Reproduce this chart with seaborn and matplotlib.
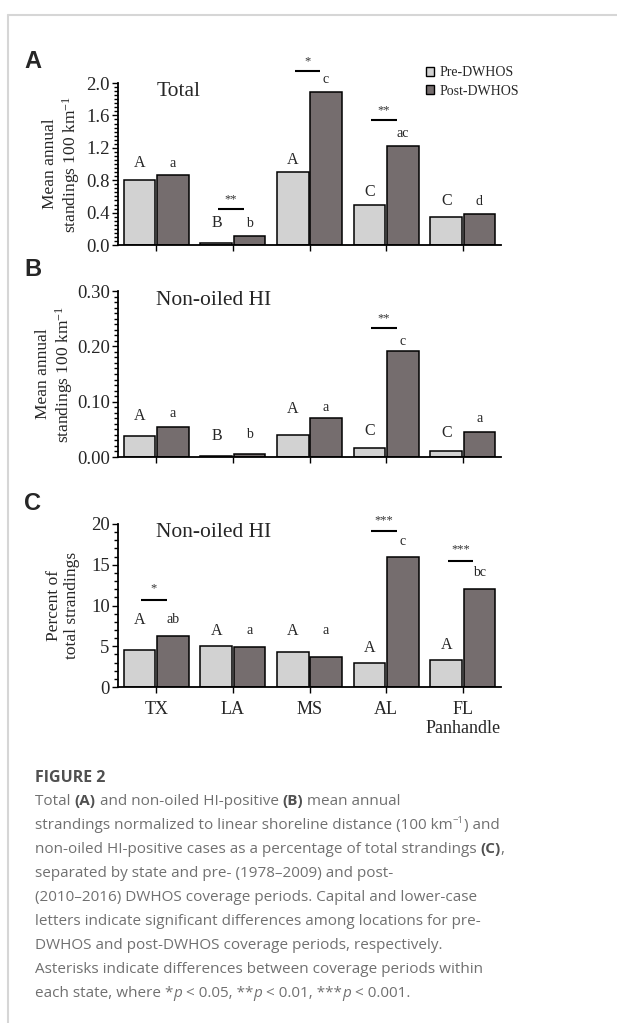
import numpy as np
import pandas as pd
import matplotlib
matplotlib.use("Agg")
import matplotlib.pyplot as plt
from matplotlib.lines import Line2D
from matplotlib.patches import Patch
from matplotlib.ticker import MultipleLocator, FormatStrFormatter
import seaborn as sns

# data
states = ["TX", "LA", "MS", "AL", "FL\nPanhandle"]
periods = ["Pre-DWHOS", "Post-DWHOS"]

total_pre = [0.80, 0.02, 0.90, 0.50, 0.345]
total_post = [0.87, 0.105, 1.89, 1.22, 0.38]
hi_pre = [0.038, 0.002, 0.040, 0.016, 0.011]
hi_post = [0.055, 0.005, 0.071, 0.192, 0.045]
pct_pre = [4.6, 5.05, 4.35, 2.9, 3.3]
pct_post = [6.3, 4.95, 3.7, 15.9, 12.0]

# letter groups (capital = pre, lower case = post)
total_letters_pre = ["A", "B", "A", "C", "C"]
total_letters_post = ["a", "b", "c", "ac", "d"]
hi_letters_pre = ["A", "B", "A", "C", "C"]
hi_letters_post = ["a", "b", "a", "c", "a"]
pct_letters_pre = ["A", "A", "A", "A", "A"]
pct_letters_post = ["ab", "a", "a", "c", "bc"]

# where the letters sit (data units)
total_letter_y_pre = [1.01, 0.27, 1.05, 0.65, 0.54]
total_letter_y_post = [1.01, 0.27, 2.04, 1.38, 0.54]
hi_letter_y_pre = [0.074, 0.038, 0.087, 0.047, 0.043]
hi_letter_y_post = [0.078, 0.040, 0.090, 0.208, 0.070]
pct_letter_y_pre = [8.2, 6.9, 6.9, 4.8, 5.1]
pct_letter_y_post = [8.3, 6.9, 6.9, 17.8, 14.0]

# significance marks: state index -> (stars, line height)
total_stars = {1: ("**", 0.44), 2: ("*", 2.15), 3: ("**", 1.54)}
hi_stars = {3: ("**", 0.233)}
pct_stars = {0: ("*", 10.7), 3: ("***", 19.1), 4: ("***", 15.5)}

PRE_COLOR = "#d2d2d2"
POST_COLOR = "#756d6e"

sns.set_theme(style="ticks")
plt.rcParams['font.family'] = ['Liberation Serif', 'DejaVu Serif']
plt.rcParams['mathtext.fontset'] = 'custom'
plt.rcParams['mathtext.rm'] = 'Liberation Serif'
plt.rcParams['mathtext.it'] = 'Liberation Serif:italic'

W, H = 617, 1023
fig = plt.figure(figsize=(W / 100, H / 100), dpi=100)
fig.patch.set_facecolor("white")


def px_axes(top, bottom, left=118, right=501):
    """axes from pixel box"""
    return fig.add_axes([left / W, 1 - bottom / H, (right - left) / W, (bottom - top) / H])


def draw_panel(ax, pre, post, ymax, major, minor, fmt, title, ylabel, label_x,
               letters_pre, letters_post, ly_pre, ly_post, stars, star_gap, show_x):
    df = pd.DataFrame({
        "state": states * 2,
        "period": [periods[0]] * len(states) + [periods[1]] * len(states),
        "value": list(pre) + list(post),
    })
    sns.barplot(data=df, x="state", y="value", hue="period",
                palette=[PRE_COLOR, POST_COLOR], saturation=1,
                edgecolor="black", linewidth=1.1, width=0.87, gap=0.05,
                errorbar=None, legend=False, ax=ax)
    ax.set_xlim(-0.5, 4.5)
    ax.set_ylim(0, ymax)
    ax.yaxis.set_major_locator(MultipleLocator(major))
    ax.yaxis.set_minor_locator(MultipleLocator(minor))
    ax.yaxis.set_major_formatter(FormatStrFormatter(fmt))
    sns.despine(ax=ax)
    for s in ["left", "bottom"]:
        ax.spines[s].set_linewidth(1.3)
        ax.spines[s].set_color("black")
    ax.tick_params(axis="both", which="both", direction="out", color="black", width=1.0)
    ax.tick_params(axis="y", which="major", length=4, labelsize=13.5, pad=2)
    ax.tick_params(axis="y", which="minor", length=3)
    ax.tick_params(axis="x", which="major", length=4, labelsize=13, pad=6)
    ax.set_xlabel("")
    ax.set_ylabel(ylabel, fontsize=12.5, linespacing=1.1)
    ax.yaxis.set_label_coords(label_x, 0.5)
    if not show_x:
        ax.tick_params(axis="x", labelbottom=False)
    else:
        ax.set_xticks(range(len(states)))
        ax.set_xticklabels(states, linespacing=1.15)
    ax.text(0.10, 0.945, title, transform=ax.transAxes, fontsize=15.5, ha="left", va="center")

    # letters above bars
    for i in range(len(states)):
        ax.text(i - 0.215, ly_pre[i], letters_pre[i], ha="center", va="center", fontsize=11.5)
        ax.text(i + 0.215, ly_post[i], letters_post[i], ha="center", va="center", fontsize=10)
    # significance lines
    for i, (mark, yl) in stars.items():
        ax.plot([i - 0.195, i + 0.14], [yl, yl], color="black", lw=1.5, clip_on=False,
                solid_capstyle="butt")
        ax.text(i - 0.03, yl + star_gap, mark, ha="center", va="center", fontsize=9,
                color="#333333", clip_on=False)


ax_a = px_axes(83, 245)
draw_panel(ax_a, total_pre, total_post, 2.0, 0.4, 0.05, "%.1f", "Total",
           "Mean annual\nstandings 100 km$^{-1}$", -0.095,
           total_letters_pre, total_letters_post, total_letter_y_pre, total_letter_y_post,
           total_stars, 0.12, False)

ax_b = px_axes(291, 457)
draw_panel(ax_b, hi_pre, hi_post, 0.30, 0.10, 0.01, "%.2f", "Non-oiled HI",
           "Mean annual\nstandings 100 km$^{-1}$", -0.113,
           hi_letters_pre, hi_letters_post, hi_letter_y_pre, hi_letter_y_post,
           hi_stars, 0.018, False)

ax_c = px_axes(524, 687)
draw_panel(ax_c, pct_pre, pct_post, 20, 5, 1, "%d", "Non-oiled HI",
           "Percent of\ntotal strandings", -0.1,
           pct_letters_pre, pct_letters_post, pct_letter_y_pre, pct_letter_y_post,
           pct_stars, 1.35, True)

# legend in panel A
handles = [Patch(facecolor=PRE_COLOR, edgecolor="black", lw=1.0),
           Patch(facecolor=POST_COLOR, edgecolor="black", lw=1.0)]
ax_a.legend(handles, periods, loc="upper left", bbox_to_anchor=(426 / W, 1 - 66 / H),
            bbox_transform=fig.transFigure, frameon=False, fontsize=10,
            handlelength=0.6, handleheight=0.6, handletextpad=0.4,
            labelspacing=0.4, borderpad=0, borderaxespad=0)

# panel letters
for lab, yy in [("A", 61), ("B", 269), ("C", 504)]:
    fig.text(24 / W, 1 - yy / H, lab, fontsize=17, fontweight="bold",
             family=["Liberation Sans", "DejaVu Sans"], ha="left", va="center")

# page border
fig.add_artist(Line2D([8 / W, 8 / W], [0, 1 - 15 / H], transform=fig.transFigure,
                      color="#d6d6d6", lw=1.5))
fig.add_artist(Line2D([8 / W, 1], [1 - 15 / H, 1 - 15 / H], transform=fig.transFigure,
                      color="#d6d6d6", lw=1.5))

# caption
CAP_FONT = ["Open Sans", "DejaVu Sans"]
BODY = "#707070"
DARK = "#505050"
renderer = fig.canvas.get_renderer()


def caption_line(y, segments, x=35, size=11):
    """draw one caption line from (text, style) pieces"""
    for text, style in segments:
        kw = dict(fontsize=size, color=BODY, family=CAP_FONT, va="baseline", ha="left")
        dy = 0
        if style == "b":
            kw.update(fontweight="bold", color=DARK)
        elif style == "i":
            kw.update(style="italic")
        elif style == "sup":
            kw.update(fontsize=size * 0.62)
            dy = -6
        t = fig.text(x / W, 1 - (y + dy) / H, text, **kw)
        x += t.get_window_extent(renderer=renderer).width


fig.text(35 / W, 1 - 782 / H, "FIGURE 2", fontsize=11.5, fontweight="bold", color=DARK,
         family=CAP_FONT, va="baseline", ha="left")

cap_lines = [
    [("Total ", "n"), ("(A)", "b"), (" and non-oiled HI-positive ", "n"), ("(B)", "b"),
     (" mean annual", "n")],
    [("strandings normalized to linear shoreline distance (100 km", "n"), ("\u22121", "sup"),
     (") and", "n")],
    [("non-oiled HI-positive cases as a percentage of total strandings ", "n"), ("(C)", "b"),
     (",", "n")],
    [("separated by state and pre- (1978\u20132009) and post-", "n")],
    [("(2010\u20132016) DWHOS coverage periods. Capital and lower-case", "n")],
    [("letters indicate significant differences among locations for pre-", "n")],
    [("DWHOS and post-DWHOS coverage periods, respectively.", "n")],
    [("Asterisks indicate differences between coverage periods within", "n")],
    [("each state, where *", "n"), ("p", "i"), (" < 0.05, **", "n"), ("p", "i"),
     (" < 0.01, ***", "n"), ("p", "i"), (" < 0.001.", "n")],
]
for k, segs in enumerate(cap_lines):
    caption_line(805 + k * 24, segs)

fig.savefig("out.png", dpi=100, facecolor="white")
